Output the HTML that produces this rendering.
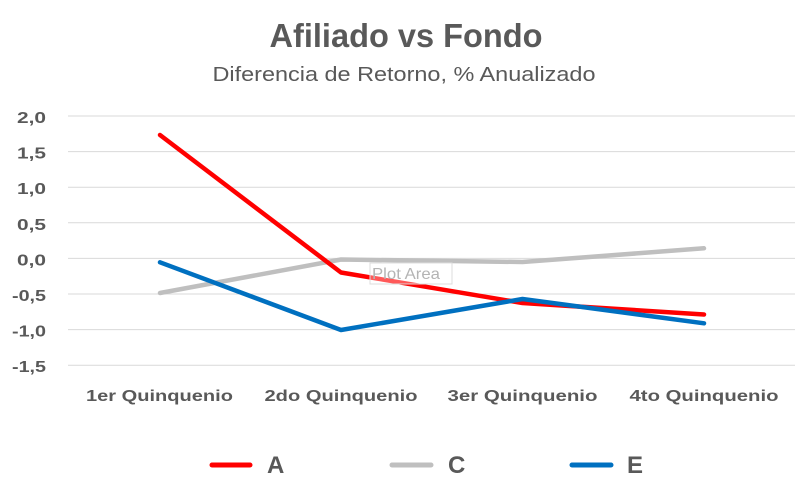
<!DOCTYPE html>
<html>
<head>
<meta charset="utf-8">
<style>
html,body{margin:0;padding:0;background:#fff;}
svg{display:block;}
text{font-family:"Liberation Sans",Arial,sans-serif;fill:#595959;}
</style>
</head>
<body>
<svg width="800" height="487" viewBox="0 0 800 487" xmlns="http://www.w3.org/2000/svg">
  <rect width="800" height="487" fill="#fff"/>
  <!-- Title -->
  <text x="406" y="47" text-anchor="middle" font-size="33" font-weight="bold" textLength="273" lengthAdjust="spacingAndGlyphs">Afiliado vs Fondo</text>
  <text x="404" y="81" text-anchor="middle" font-size="20" textLength="383" lengthAdjust="spacingAndGlyphs">Diferencia de Retorno, % Anualizado</text>

  <!-- Gridlines -->
  <g stroke="#d9d9d9" stroke-width="1">
    <line x1="68" y1="116" x2="795" y2="116"/>
    <line x1="68" y1="151.6" x2="795" y2="151.6"/>
    <line x1="68" y1="187.2" x2="795" y2="187.2"/>
    <line x1="68" y1="222.8" x2="795" y2="222.8"/>
    <line x1="68" y1="258.4" x2="795" y2="258.4"/>
    <line x1="68" y1="294" x2="795" y2="294"/>
    <line x1="68" y1="329.6" x2="795" y2="329.6"/>
    <line x1="68" y1="365.2" x2="795" y2="365.2"/>
  </g>

  <!-- Y axis labels -->
  <g font-size="16" font-weight="bold" text-anchor="end">
    <text x="46" y="123" textLength="29" lengthAdjust="spacingAndGlyphs">2,0</text>
    <text x="46" y="158.6" textLength="29" lengthAdjust="spacingAndGlyphs">1,5</text>
    <text x="46" y="194.2" textLength="29" lengthAdjust="spacingAndGlyphs">1,0</text>
    <text x="46" y="229.8" textLength="29" lengthAdjust="spacingAndGlyphs">0,5</text>
    <text x="46" y="265.4" textLength="29" lengthAdjust="spacingAndGlyphs">0,0</text>
    <text x="46" y="301" textLength="34" lengthAdjust="spacingAndGlyphs">-0,5</text>
    <text x="46" y="336.6" textLength="34" lengthAdjust="spacingAndGlyphs">-1,0</text>
    <text x="46" y="372.2" textLength="34" lengthAdjust="spacingAndGlyphs">-1,5</text>
  </g>

  <!-- X axis labels -->
  <g font-size="15.5" font-weight="bold" text-anchor="middle">
    <text x="159.5" y="401" textLength="147" lengthAdjust="spacingAndGlyphs">1er Quinquenio</text>
    <text x="341" y="401" textLength="153" lengthAdjust="spacingAndGlyphs">2do Quinquenio</text>
    <text x="522.5" y="401" textLength="150" lengthAdjust="spacingAndGlyphs">3er Quinquenio</text>
    <text x="704" y="401" textLength="149" lengthAdjust="spacingAndGlyphs">4to Quinquenio</text>
  </g>

  <!-- Series -->
  <g fill="none" stroke-width="4.5" stroke-linejoin="round" stroke-linecap="round">
    <polyline stroke="#BFBFBF" points="160,293 341,259.5 522.5,262 704,248.3"/>
    <polyline stroke="#FF0000" points="160,135 341,272.5 522.5,303 704,314.5"/>
    <polyline stroke="#0070C0" points="160,262.3 341,330 522.5,299 704,323.3"/>
  </g>

  <!-- Plot Area tooltip -->
  <rect x="370" y="263" width="82" height="21" fill="#ffffff" fill-opacity="0.35" stroke="#dcdcdc" stroke-width="1"/>
  <text x="372" y="279" font-size="16" style="fill:#b4b4b4" textLength="68" lengthAdjust="spacingAndGlyphs">Plot Area</text>

  <!-- Legend -->
  <g stroke-width="5" stroke-linecap="round">
    <line x1="212" y1="465" x2="250" y2="465" stroke="#FF0000"/>
    <line x1="392" y1="465" x2="431" y2="465" stroke="#BFBFBF"/>
    <line x1="572" y1="465" x2="611" y2="465" stroke="#0070C0"/>
  </g>
  <g font-size="24" font-weight="bold">
    <text x="267" y="473">A</text>
    <text x="448" y="473">C</text>
    <text x="627" y="473">E</text>
  </g>
</svg>
</body>
</html>
